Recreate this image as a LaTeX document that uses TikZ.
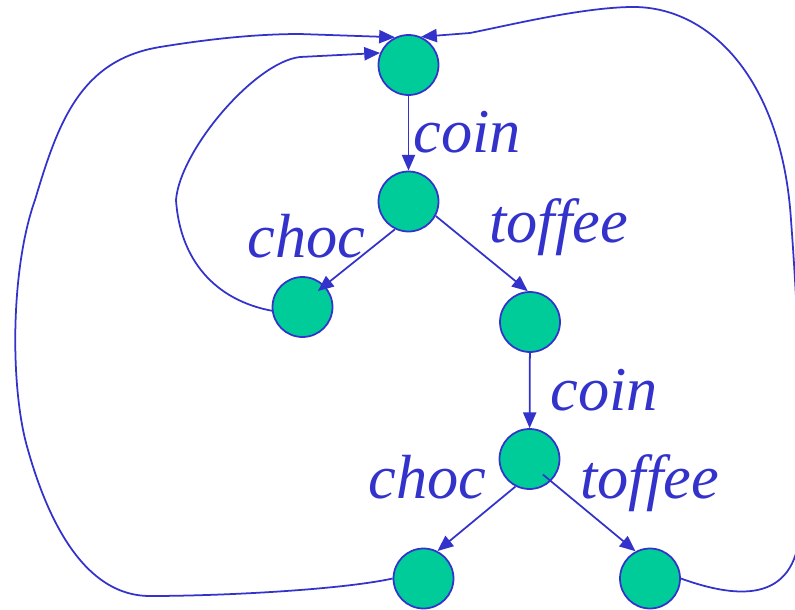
\documentclass[tikz,border=0pt]{standalone}
\usepackage{fontspec}
\setmainfont{Liberation Serif}
\usetikzlibrary{arrows.meta}
\definecolor{lineblue}{RGB}{51,51,204}
\definecolor{stategreen}{RGB}{0,204,153}

\begin{document}
\begin{tikzpicture}[x=0.02cm, y=-0.02cm,
        state/.style={circle, draw=lineblue, fill=stategreen, line width=1pt, minimum size=1.2cm, inner sep=0pt},
        trans/.style={draw=lineblue, line width=1pt, -{Triangle[length=9pt, width=7.5pt]}},
        lbl/.style={anchor=base west, inner sep=0pt, text=lineblue, font=\fontsize{35.5}{40}\selectfont\itshape}]
        % Picture frame (the right loop runs off the edge)
        \useasboundingbox (0,0) rectangle (795,609);
        \clip (0,0) rectangle (795,609);

        % States
        \node[state] (s0) at (408.5, 65) {};
        \node[state] (s1) at (408.5, 201.5) {};
        \node[state] (s2) at (302.5, 307) {};
        \node[state] (s3) at (530, 322) {};
        \node[state] (s4) at (529.5, 459) {};
        \node[state] (s5) at (423.5, 578.5) {};
        \node[state] (s6) at (650, 578.5) {};

        % Labels of the transitions
        \node[lbl] (lcoinA) at (413, 152) {coin};
        \node[lbl] (lchocA) at (247, 257) {choc};
        \node[lbl] (ltoffeeA) at (489, 242) {toffee};
        \node[lbl] (lcoinB) at (550, 410) {coin};
        \node[lbl] (lchocB) at (368, 498) {choc};
        \node[lbl] (ltoffeeB) at (580, 498) {toffee};

        % Transitions of the tree
        \draw[trans] (s0) -- (s1);
        \draw[trans, shorten >=-5pt] (s1.244) -- (s2.44);
        \draw[trans] (s1.332) -- (s3.94);
        \draw[trans] (s3) -- (s4);
        \draw[trans] (s4.243) -- (s5.63);
        \draw[trans, shorten <=-6pt] (s4.314) -- (s6.118);

        % Loops back to the start state
        \draw[trans] (s2.187) .. controls (215,300) and (180,260) .. (176,200)
            .. controls (180,150) and (255,62) .. (300,57) -- (s0.157);
        \draw[trans] (s5.west) .. controls (340,590) and (220,596) .. (150,596)
            .. controls (80,596) and (45,510) .. (28,450)
            .. controls (10,390) and (10,270) .. (35,200)
            .. controls (58,123) and (80,60) .. (160,47)
            .. controls (200,40.5) and (250,34) .. (300,34) -- (s0.116);
        \draw[trans] (s6.east) .. controls (735,598) and (795,605) .. (800,530)
            .. controls (805,450) and (797,300) .. (791,220)
            .. controls (782,80) and (710,5) .. (630,7)
            .. controls (580,8) and (510,25) .. (470,33) -- (s0.66);
\end{tikzpicture}
\end{document}
